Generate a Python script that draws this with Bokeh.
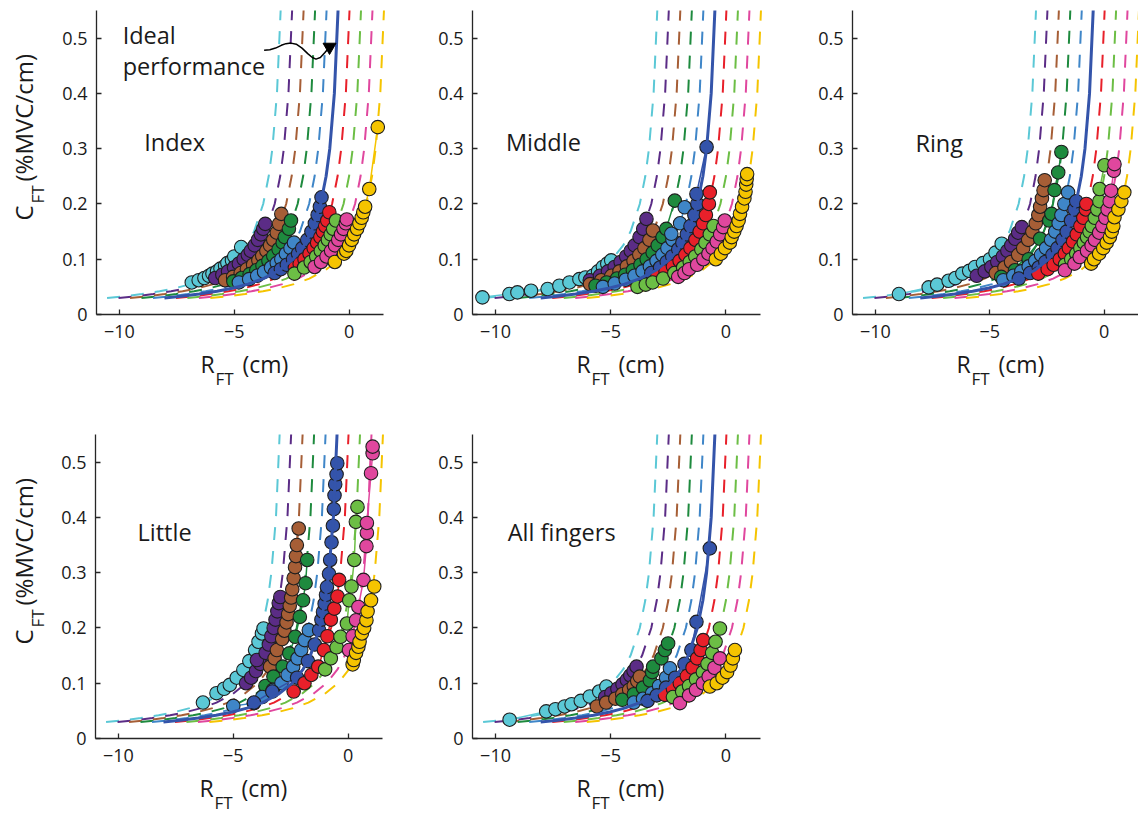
from bokeh.plotting import figure
from bokeh.layouts import column, row
from bokeh.models import Range1d, Label, FixedTicker
from bokeh.embed import file_html
from bokeh.resources import INLINE

# ---------------- data ----------------
COLORS = ["#5BC8D6", "#5B2C86", "#A65E36", "#1E8A3E", "#3F86C8",
          "#3454AA", "#E8202A", "#6CBE45", "#E0479E", "#F5C400"]
IDEAL = 5  # index of the solid "ideal performance" curve

X_TICKS = [-10, -5, 0]
X_TICK_LABELS = ["\u221210", "\u22125", "0"]
Y_TICKS = [0, 0.1, 0.2, 0.3, 0.4, 0.5]
Y_TICK_LABELS = ["0", "0.1", "0.2", "0.3", "0.4", "0.5"]
X_LIM = (-11, 1.5)
Y_LIM = (0, 0.55)

PANEL_NAMES = ["Index", "Middle", "Ring", "Little", "All fingers"]

CURVE_C = [0.03, 0.033, 0.037, 0.042, 0.048, 0.055, 0.065, 0.08, 0.1, 0.125,
           0.15, 0.2, 0.25, 0.3, 0.4, 0.55]
CURVE_R = [
    [-10.54, -9.81, -9.03, -8.25, -7.54, -6.90, -6.23, -5.54, -4.94, -4.46, -4.14, -3.74, -3.50, -3.34, -3.14, -2.98],
    [-10.04, -9.31, -8.53, -7.75, -7.04, -6.40, -5.73, -5.04, -4.44, -3.96, -3.64, -3.24, -3.00, -2.84, -2.64, -2.48],
    [-9.54, -8.81, -8.03, -7.25, -6.54, -5.90, -5.23, -4.54, -3.94, -3.46, -3.14, -2.74, -2.50, -2.34, -2.14, -1.98],
    [-9.04, -8.31, -7.53, -6.75, -6.04, -5.40, -4.73, -4.04, -3.44, -2.96, -2.64, -2.24, -2.00, -1.84, -1.64, -1.48],
    [-8.54, -7.81, -7.03, -6.25, -5.54, -4.90, -4.23, -3.54, -2.94, -2.46, -2.14, -1.74, -1.50, -1.34, -1.14, -0.98],
    [-8.04, -7.31, -6.53, -5.75, -5.04, -4.40, -3.73, -3.04, -2.44, -1.96, -1.64, -1.24, -1.00, -0.84, -0.64, -0.48],
    [-7.54, -6.81, -6.03, -5.25, -4.54, -3.90, -3.23, -2.54, -1.94, -1.46, -1.14, -0.74, -0.50, -0.34, -0.14, 0.02],
    [-7.04, -6.31, -5.53, -4.75, -4.04, -3.40, -2.73, -2.04, -1.44, -0.96, -0.64, -0.24, 0.00, 0.16, 0.36, 0.52],
    [-6.54, -5.81, -5.03, -4.25, -3.54, -2.90, -2.23, -1.54, -0.94, -0.46, -0.14, 0.26, 0.50, 0.66, 0.86, 1.02],
    [-6.04, -5.31, -4.53, -3.75, -3.04, -2.40, -1.73, -1.04, -0.44, 0.04, 0.36, 0.76, 1.00, 1.16, 1.36, 1.52],
]

INDEX_C = [
    [0.058, 0.062, 0.066, 0.070, 0.074, 0.078, 0.083, 0.088, 0.093, 0.098, 0.105, 0.122],
    [0.066, 0.072, 0.078, 0.085, 0.092, 0.100, 0.108, 0.115, 0.125, 0.135, 0.145, 0.155, 0.164],
    [0.062, 0.068, 0.075, 0.082, 0.090, 0.098, 0.106, 0.115, 0.125, 0.135, 0.148, 0.164, 0.182],
    [0.060, 0.066, 0.073, 0.080, 0.088, 0.097, 0.106, 0.118, 0.130, 0.140, 0.155, 0.170],
    [0.058, 0.064, 0.070, 0.077, 0.085, 0.093, 0.100, 0.110, 0.120, 0.130],
    [0.075, 0.082, 0.090, 0.100, 0.110, 0.120, 0.135, 0.150, 0.165, 0.180, 0.195, 0.212],
    [0.085, 0.092, 0.100, 0.110, 0.120, 0.130, 0.140, 0.150, 0.160, 0.170, 0.185],
    [0.074, 0.085, 0.095, 0.105, 0.115, 0.125, 0.135, 0.145, 0.155, 0.170],
    [0.086, 0.095, 0.105, 0.115, 0.125, 0.135, 0.145, 0.155, 0.165, 0.172],
    [0.095, 0.110, 0.115, 0.125, 0.135, 0.145, 0.155, 0.165, 0.175, 0.185, 0.195, 0.227, 0.339],
]
INDEX_R = [
    [-6.85, -6.55, -6.30, -6.10, -5.95, -5.75, -5.60, -5.40, -5.30, -5.10, -5.00, -4.70],
    [-5.83, -5.52, -5.27, -5.01, -4.80, -4.59, -4.41, -4.28, -4.11, -3.97, -3.84, -3.74, -3.65],
    [-5.40, -5.05, -4.72, -4.45, -4.18, -3.95, -3.78, -3.60, -3.44, -3.30, -3.15, -3.05, -2.95],
    [-5.04, -4.68, -4.33, -4.04, -3.77, -3.51, -3.30, -3.07, -2.89, -2.80, -2.62, -2.53],
    [-4.80, -4.35, -4.00, -3.70, -3.40, -3.15, -2.95, -2.75, -2.55, -2.40],
    [-3.24, -2.97, -2.71, -2.44, -2.22, -2.04, -1.82, -1.64, -1.49, -1.37, -1.27, -1.20],
    [-2.36, -2.15, -1.94, -1.72, -1.54, -1.39, -1.25, -1.14, -1.04, -0.95, -0.86],
    [-2.38, -1.96, -1.67, -1.43, -1.23, -1.06, -0.92, -0.80, -0.69, -0.57],
    [-1.50, -1.22, -0.98, -0.78, -0.61, -0.47, -0.35, -0.24, -0.14, -0.10],
    [-0.62, -0.22, -0.12, 0.00, 0.12, 0.22, 0.35, 0.45, 0.55, 0.62, 0.70, 0.88, 1.25],
]

MIDDLE_C = [
    [0.031, 0.037, 0.040, 0.043, 0.046, 0.052, 0.058, 0.064, 0.067, 0.070, 0.078, 0.086, 0.092, 0.098],
    [0.062, 0.070, 0.078, 0.086, 0.095, 0.105, 0.115, 0.125, 0.140, 0.155, 0.173],
    [0.055, 0.062, 0.070, 0.078, 0.087, 0.097, 0.108, 0.120, 0.135, 0.152],
    [0.052, 0.058, 0.065, 0.072, 0.080, 0.090, 0.100, 0.112, 0.125, 0.140, 0.155, 0.206],
    [0.050, 0.056, 0.063, 0.070, 0.078, 0.087, 0.097, 0.108, 0.120, 0.135, 0.146, 0.165, 0.194],
    [0.075, 0.085, 0.095, 0.105, 0.118, 0.130, 0.145, 0.160, 0.180, 0.200, 0.218, 0.303],
    [0.070, 0.078, 0.087, 0.097, 0.108, 0.120, 0.135, 0.150, 0.165, 0.180, 0.200, 0.221],
    [0.050, 0.054, 0.058, 0.065, 0.075, 0.085, 0.095, 0.105, 0.118, 0.130, 0.145, 0.160],
    [0.068, 0.075, 0.082, 0.090, 0.100, 0.110, 0.120, 0.132, 0.145, 0.158, 0.170],
    [0.100, 0.110, 0.120, 0.130, 0.140, 0.150, 0.160, 0.170, 0.182, 0.195, 0.210, 0.222, 0.235, 0.245, 0.254],
]
MIDDLE_R = [
    [-10.57, -9.40, -9.05, -8.46, -7.74, -7.23, -6.79, -6.36, -6.10, -5.78, -5.55, -5.34, -5.15, -4.98],
    [-5.91, -5.47, -5.12, -4.83, -4.57, -4.33, -4.13, -3.96, -3.75, -3.59, -3.45],
    [-5.90, -5.41, -4.97, -4.62, -4.30, -4.01, -3.76, -3.54, -3.32, -3.17],
    [-5.66, -5.18, -4.73, -4.37, -4.04, -3.71, -3.44, -3.18, -2.96, -2.75, -2.59, -2.22],
    [-5.34, -4.83, -4.35, -3.97, -3.62, -3.30, -3.01, -2.76, -2.54, -2.32, -2.37, -1.99, -1.79],
    [-3.24, -2.86, -2.57, -2.33, -2.07, -1.89, -1.70, -1.54, -1.37, -1.24, -1.28, -0.84],
    [-2.97, -2.62, -2.30, -2.01, -1.76, -1.54, -1.32, -1.14, -0.99, -0.87, -0.74, -0.70],
    [-3.84, -3.48, -3.18, -2.73, -2.24, -1.86, -1.57, -1.33, -1.07, -0.89, -0.70, -0.54],
    [-2.07, -1.80, -1.60, -1.25, -0.98, -0.76, -0.58, -0.40, -0.25, -0.12, -0.05],
    [-0.44, -0.22, -0.04, 0.17, 0.25, 0.36, 0.46, 0.55, 0.61, 0.70, 0.80, 0.85, 0.88, 0.90, 0.92],
]

RING_C = [
    [0.037, 0.049, 0.054, 0.061, 0.066, 0.074, 0.079, 0.086, 0.093, 0.100, 0.112, 0.128],
    [0.070, 0.078, 0.086, 0.095, 0.105, 0.115, 0.125, 0.137, 0.148, 0.158],
    [0.075, 0.085, 0.095, 0.108, 0.120, 0.135, 0.150, 0.165, 0.180, 0.195, 0.210, 0.225, 0.243],
    [0.068, 0.080, 0.100, 0.137, 0.170, 0.182, 0.225, 0.257, 0.294],
    [0.062, 0.070, 0.078, 0.087, 0.097, 0.108, 0.120, 0.135, 0.150, 0.165, 0.180, 0.200, 0.221],
    [0.065, 0.075, 0.085, 0.095, 0.108, 0.120, 0.135, 0.150, 0.170, 0.190, 0.205],
    [0.074, 0.082, 0.090, 0.100, 0.110, 0.120, 0.132, 0.145, 0.160, 0.175, 0.190, 0.200],
    [0.090, 0.100, 0.110, 0.120, 0.130, 0.140, 0.150, 0.160, 0.175, 0.190, 0.205, 0.227, 0.270],
    [0.080, 0.092, 0.104, 0.115, 0.125, 0.135, 0.148, 0.160, 0.175, 0.190, 0.205, 0.224, 0.260, 0.272],
    [0.092, 0.100, 0.110, 0.120, 0.130, 0.140, 0.150, 0.160, 0.176, 0.190, 0.205, 0.221],
]
RING_R = [
    [-8.97, -7.67, -7.30, -6.80, -6.50, -6.20, -5.90, -5.64, -5.30, -4.99, -4.75, -4.48],
    [-5.57, -5.22, -4.93, -4.67, -4.43, -4.23, -4.06, -3.89, -3.76, -3.60],
    [-4.74, -4.36, -4.07, -3.76, -3.54, -3.32, -3.14, -2.99, -2.88, -2.80, -2.72, -2.65, -2.60],
    [-4.50, -3.90, -3.30, -2.80, -2.40, -2.30, -2.17, -2.01, -1.87],
    [-4.41, -3.97, -3.62, -3.30, -3.01, -2.76, -2.54, -2.32, -2.14, -1.99, -1.87, -1.74, -1.58],
    [-3.73, -3.24, -2.86, -2.57, -2.26, -2.04, -1.82, -1.64, -1.45, -1.30, -1.22],
    [-2.88, -2.47, -2.21, -1.94, -1.72, -1.54, -1.36, -1.20, -1.04, -0.91, -0.80, -0.78],
    [-1.71, -1.44, -1.22, -1.04, -0.89, -0.75, -0.64, -0.54, -0.41, -0.30, -0.21, -0.20, 0.01],
    [-1.72, -1.30, -1.07, -0.75, -0.55, -0.40, -0.22, -0.08, 0.05, 0.15, 0.24, 0.30, 0.42, 0.45],
    [-0.57, -0.44, -0.22, -0.04, 0.11, 0.25, 0.33, 0.40, 0.45, 0.62, 0.75, 0.88],
]

LITTLE_C = [
    [0.065, 0.082, 0.090, 0.097, 0.110, 0.124, 0.140, 0.160, 0.175, 0.190, 0.199],
    [0.100, 0.110, 0.122, 0.135, 0.142, 0.155, 0.170, 0.185, 0.200, 0.215, 0.230, 0.245, 0.256],
    [0.130, 0.145, 0.160, 0.180, 0.195, 0.210, 0.225, 0.240, 0.255, 0.270, 0.290, 0.310, 0.330, 0.350, 0.380],
    [0.095, 0.112, 0.130, 0.154, 0.184, 0.220, 0.250, 0.281, 0.323],
    [0.059, 0.064, 0.075, 0.088, 0.100, 0.115, 0.130, 0.145, 0.160, 0.178, 0.196],
    [0.065, 0.085, 0.110, 0.140, 0.170, 0.196, 0.215, 0.229, 0.244, 0.260, 0.274, 0.298, 0.323, 0.355,
     0.385, 0.415, 0.440, 0.460, 0.478, 0.498],
    [0.085, 0.100, 0.115, 0.130, 0.160, 0.185, 0.215, 0.235, 0.257, 0.287],
    [0.125, 0.145, 0.165, 0.184, 0.208, 0.250, 0.275, 0.323, 0.392, 0.419],
    [0.160, 0.185, 0.214, 0.238, 0.287, 0.348, 0.372, 0.390, 0.480, 0.516, 0.528],
    [0.134, 0.142, 0.155, 0.166, 0.175, 0.190, 0.200, 0.214, 0.230, 0.250, 0.275],
]
LITTLE_R = [
    [-6.32, -5.73, -5.40, -5.15, -4.85, -4.56, -4.30, -4.05, -3.90, -3.75, -3.68],
    [-4.44, -4.22, -4.01, -3.82, -3.97, -3.59, -3.45, -3.34, -3.24, -3.16, -3.08, -3.02, -2.95],
    [-3.40, -3.20, -3.10, -2.87, -2.77, -2.68, -2.61, -2.54, -2.48, -2.43, -2.37, -2.31, -2.27, -2.23, -2.15],
    [-3.60, -3.25, -2.85, -2.56, -2.30, -2.10, -1.96, -1.85, -1.78],
    [-5.00, -4.10, -3.74, -3.27, -2.90, -2.63, -2.39, -2.20, -2.04, -1.89, -1.71],
    [-4.10, -3.30, -2.22, -1.75, -1.45, -1.26, -1.16, -1.09, -1.02, -0.96, -0.92, -0.83, -0.78, -0.72,
     -0.66, -0.62, -0.59, -0.56, -0.50, -0.47],
    [-2.37, -1.90, -1.60, -1.30, -1.05, -0.90, -0.75, -0.60, -0.46, -0.39],
    [-1.00, -0.75, -0.50, -0.33, -0.05, 0.05, 0.15, 0.27, 0.34, 0.41],
    [0.04, 0.20, 0.35, 0.45, 0.67, 0.80, 0.82, 0.82, 1.00, 1.07, 1.07],
    [0.20, 0.25, 0.35, 0.45, 0.50, 0.60, 0.70, 0.80, 0.85, 1.00, 1.14],
]

ALL_C = [
    [0.034, 0.049, 0.053, 0.058, 0.062, 0.068, 0.076, 0.085, 0.094],
    [0.075, 0.082, 0.090, 0.098, 0.106, 0.114, 0.122, 0.130],
    [0.058, 0.065, 0.072, 0.080, 0.088, 0.095, 0.104, 0.112],
    [0.070, 0.080, 0.092, 0.105, 0.120, 0.130, 0.145, 0.160, 0.172],
    [0.065, 0.072, 0.082, 0.095, 0.110, 0.127],
    [0.068, 0.078, 0.092, 0.110, 0.135, 0.160, 0.211, 0.344],
    [0.079, 0.090, 0.100, 0.113, 0.128, 0.145, 0.160, 0.178],
    [0.075, 0.085, 0.095, 0.107, 0.120, 0.135, 0.155, 0.175, 0.199],
    [0.064, 0.078, 0.088, 0.100, 0.112, 0.128, 0.145],
    [0.094, 0.100, 0.110, 0.120, 0.132, 0.145, 0.160],
]
ALL_R = [
    [-9.39, -7.80, -7.40, -7.00, -6.70, -6.30, -5.91, -5.50, -5.19],
    [-5.24, -4.97, -4.71, -4.49, -4.30, -4.15, -4.01, -3.88],
    [-5.60, -5.20, -4.80, -4.50, -4.20, -4.00, -3.85, -3.74],
    [-4.50, -4.00, -3.60, -3.30, -3.20, -3.16, -2.80, -2.65, -2.51],
    [-4.00, -3.60, -3.20, -2.90, -2.60, -2.43],
    [-3.40, -3.00, -2.60, -2.20, -1.80, -1.50, -1.28, -0.70],
    [-2.65, -2.30, -2.00, -1.70, -1.45, -1.25, -1.10, -0.99],
    [-2.30, -1.90, -1.60, -1.30, -1.00, -0.80, -0.60, -0.45, -0.26],
    [-2.00, -1.60, -1.30, -1.00, -0.75, -0.50, -0.26],
    [-0.70, -0.40, -0.15, 0.05, 0.20, 0.30, 0.39],
]

# "Ideal performance" wavy arrow (Index panel)
WAVE_R = [-3.70, -3.45, -3.20, -2.95, -2.75, -2.53, -2.30, -2.05, -1.80, -1.60, -1.44, -1.25, -1.05, -0.95]
WAVE_C = [0.478, 0.479, 0.482, 0.487, 0.490, 0.491, 0.489, 0.482, 0.472, 0.465, 0.462, 0.465, 0.474, 0.479]
ARROW_R = [-0.85]
ARROW_C = [0.484]

FONT = "Open Sans"
TXT = "#1a1a1a"
TOP = 10        # px above the axes box
BOX_H = 304     # px height of the axes box


def make_panel(R_lists, C_lists, name, name_pos, left, box_w, right, bottom, ytitle):
    # The whole canvas is the frame; the axes are pinned at x=-11 / y=0 so that
    # the axis titles can be drawn as ordinary (unclipped) text.
    sx = box_w / (X_LIM[1] - X_LIM[0])
    sy = BOX_H / (Y_LIM[1] - Y_LIM[0])
    x0 = X_LIM[0] - left / sx
    x1 = X_LIM[1] + right / sx
    y0 = Y_LIM[0] - bottom / sy
    y1 = Y_LIM[1] + TOP / sy
    W = left + box_w + right
    H = TOP + BOX_H + bottom

    p = figure(width=W, height=H, title=None, min_border=0,
               x_range=Range1d(x0, x1), y_range=Range1d(y0, y1),
               output_backend="svg", toolbar_location=None)
    p.outline_line_color = None
    p.grid.visible = False
    p.background_fill_color = "white"
    p.border_fill_color = "white"

    for ax in (p.xaxis[0], p.yaxis[0]):
        ax.axis_line_color = "#262626"
        ax.axis_line_width = 1.3
        ax.major_tick_line_color = "#262626"
        ax.major_tick_line_width = 1.3
        ax.major_tick_in = 5
        ax.major_tick_out = 0
        ax.minor_tick_line_color = None
        ax.major_label_text_font = FONT
        ax.major_label_text_font_size = "18px"
        ax.major_label_text_color = TXT
    p.xaxis.fixed_location = Y_LIM[0]
    p.xaxis.bounds = X_LIM
    p.xaxis.ticker = FixedTicker(ticks=X_TICKS)
    p.xaxis.major_label_overrides = {t: s for t, s in zip(X_TICKS, X_TICK_LABELS)}
    p.xaxis.major_label_standoff = 10
    p.yaxis.fixed_location = X_LIM[0]
    p.yaxis.bounds = Y_LIM
    p.yaxis.ticker = FixedTicker(ticks=Y_TICKS)
    p.yaxis.major_label_overrides = {t: s for t, s in zip(Y_TICKS, Y_TICK_LABELS)}
    p.yaxis.major_label_standoff = 9

    def lab(px, py, text, size, angle=0.0):
        # px, py: canvas pixels from the figure's top-left corner (text start, glyph middle)
        p.add_layout(Label(x=x0 + px / sx, y=y1 - py / sy, text=text, angle=angle,
                           text_font=FONT, text_font_size=size, text_color=TXT,
                           text_baseline="middle", text_align="left"))

    # model curves
    for i, rs in enumerate(CURVE_R):
        if i == IDEAL:
            continue
        p.line(rs, CURVE_C, line_color=COLORS[i], line_width=2, line_dash="13 11")
    # data
    for i in range(len(R_lists)):
        p.line(R_lists[i], C_lists[i], line_color=COLORS[i], line_width=1.5)
        p.scatter(R_lists[i], C_lists[i], size=13.5, marker="circle",
                  fill_color=COLORS[i], line_color="#1e1e1e", line_width=1.1)
    p.line(CURVE_R[IDEAL], CURVE_C, line_color=COLORS[IDEAL], line_width=3)

    # panel name
    p.add_layout(Label(x=name_pos[0], y=name_pos[1], text=name, text_font=FONT,
                       text_font_size="23.5px", text_color=TXT,
                       text_baseline="middle", text_align="left"))

    # x axis title: R_FT (cm)
    lab(left + 104, 363, "R", "23px")
    lab(left + 119, 378, "FT", "17px")
    lab(left + 146, 363, "(cm)", "23px")
    if ytitle:
        lab(23, 220, "C", "24px", 1.5708)
        lab(37, 203, "FT", "17px", 1.5708)
        lab(23, 181, "(%MVC/cm)", "24px", 1.5708)
    return p


p1 = make_panel(INDEX_R, INDEX_C, PANEL_NAMES[0], (-8.92, 0.312), 96, 287, 2, 110, True)
p1.add_layout(Label(x=-9.86, y=0.505, text="Ideal", text_font=FONT, text_font_size="23.5px",
                    text_color=TXT, text_baseline="middle"))
p1.add_layout(Label(x=-9.86, y=0.449, text="performance", text_font=FONT, text_font_size="23.5px",
                    text_color=TXT, text_baseline="middle"))
p1.line(WAVE_R, WAVE_C, line_color="black", line_width=1.5)
p1.scatter(ARROW_R, ARROW_C, marker="inverted_triangle", size=13, fill_color="black",
           line_color="black")

p2 = make_panel(MIDDLE_R, MIDDLE_C, PANEL_NAMES[1], (-9.55, 0.312), 87, 288, 2, 110, False)
p3 = make_panel(RING_R, RING_C, PANEL_NAMES[2], (-8.25, 0.310), 90, 286, 0, 110, False)
p4 = make_panel(LITTLE_R, LITTLE_C, PANEL_NAMES[3], (-9.17, 0.373), 95, 287, 3, 77, True)
p5 = make_panel(ALL_R, ALL_C, PANEL_NAMES[4], (-9.47, 0.373), 87, 288, 2, 77, False)

layout = column(row(p1, p2, p3), row(p4, p5))
open("out.html", "w").write(file_html(layout, INLINE))
